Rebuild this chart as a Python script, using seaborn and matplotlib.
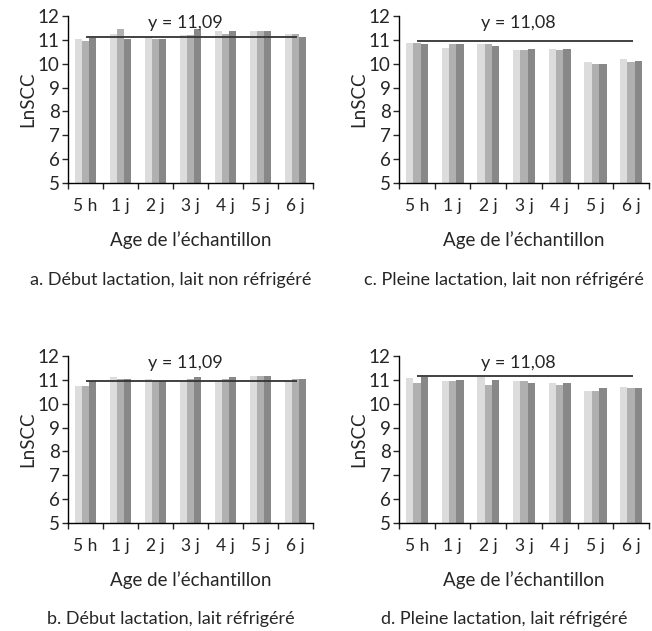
import numpy as np
import pandas as pd
import seaborn as sns
import matplotlib.pyplot as plt
from matplotlib.ticker import FixedLocator

sns.set_style("ticks")
plt.rcParams['font.family'] = ['Lato', 'DejaVu Sans']

# Data
ages = ["5 h", "1 j", "2 j", "3 j", "4 j", "5 j", "6 j"]
series = ["s1", "s2", "s3"]
colors = ["#dcdcdc", "#b0b0b0", "#888888"]

a_s1 = [11.02, 11.25, 11.10, 11.19, 11.36, 11.36, 11.25]
a_s2 = [10.94, 11.44, 11.02, 11.19, 11.25, 11.36, 11.25]
a_s3 = [11.08, 11.02, 11.02, 11.44, 11.36, 11.36, 11.10]

c_s1 = [10.87, 10.66, 10.83, 10.56, 10.63, 10.06, 10.19]
c_s2 = [10.87, 10.83, 10.83, 10.56, 10.56, 9.99, 10.06]
c_s3 = [10.83, 10.83, 10.73, 10.63, 10.63, 9.99, 10.10]

b_s1 = [10.74, 11.12, 11.04, 10.95, 10.95, 11.16, 10.95]
b_s2 = [10.74, 11.04, 10.95, 11.04, 11.04, 11.16, 11.04]
b_s3 = [10.97, 11.04, 10.95, 11.12, 11.12, 11.16, 11.04]

d_s1 = [11.08, 10.95, 11.12, 10.95, 10.88, 10.53, 10.71]
d_s2 = [10.88, 10.95, 10.79, 10.95, 10.79, 10.53, 10.66]
d_s3 = [11.12, 10.99, 10.99, 10.86, 10.88, 10.66, 10.66]

mean_levels = [11.10, 10.95, 10.95, 11.15]
mean_labels = ["y = 11,09", "y = 11,08", "y = 11,09", "y = 11,08"]
captions = ["a. Début lactation, lait non réfrigéré",
            "c. Pleine lactation, lait non réfrigéré",
            "b. Début lactation, lait réfrigéré",
            "d. Pleine lactation, lait réfrigéré"]
panel_values = [(a_s1, a_s2, a_s3), (c_s1, c_s2, c_s3),
                (b_s1, b_s2, b_s3), (d_s1, d_s2, d_s3)]

W, H = 652, 631
fig = plt.figure(figsize=(W / 100, H / 100), dpi=100)

# axes boxes in pixels: left, top, right, bottom
boxes = [(68, 16, 313, 183), (399, 16, 649, 183),
         (68, 356, 313, 523), (399, 356, 649, 523)]

for i, (box, vals) in enumerate(zip(boxes, panel_values)):
    l, t, r, b = box
    ax = fig.add_axes([l / W, 1 - b / H, (r - l) / W, (b - t) / H])
    df = pd.DataFrame({
        "age": ages * 3,
        "serie": np.repeat(series, len(ages)),
        "val": list(vals[0]) + list(vals[1]) + list(vals[2]),
    })
    sns.barplot(data=df, x="age", y="val", hue="serie", order=ages,
                hue_order=series, palette=colors, width=0.62, gap=0,
                saturation=1, linewidth=0, legend=False, ax=ax)
    ax.hlines(mean_levels[i], 0, 6.05, color="#333333", lw=1.3, zorder=5)
    ax.text(2.85, 11.72, mean_labels[i], ha="center", va="center", fontsize=13)

    ax.set_ylim(5, 12)
    ax.set_xlim(-0.5, 6.5)
    ax.set_yticks(range(5, 13))
    ax.tick_params(axis="y", labelsize=13.5, length=4, width=1, direction="out", pad=2)
    ax.tick_params(axis="x", which="major", length=0, labelsize=12.5, pad=11)
    ax.xaxis.set_minor_locator(FixedLocator(np.arange(-0.5, 7, 1)))
    ax.tick_params(axis="x", which="minor", length=4, width=1, direction="out")
    for s in ["top", "right"]:
        ax.spines[s].set_visible(False)
    for s in ["left", "bottom"]:
        ax.spines[s].set_linewidth(1)
        ax.spines[s].set_color("black")
    ax.set_ylabel("LnSCC", fontsize=13.5, labelpad=1)
    ax.set_xlabel("Age de l’échantillon", fontsize=13.5, labelpad=12)
    cy = b + 97 if i < 2 else b + 96
    fig.text(((l + r) / 2 - 20) / W, 1 - cy / H, captions[i],
             ha="center", va="center", fontsize=13)

plt.savefig("out.png", dpi=100)
